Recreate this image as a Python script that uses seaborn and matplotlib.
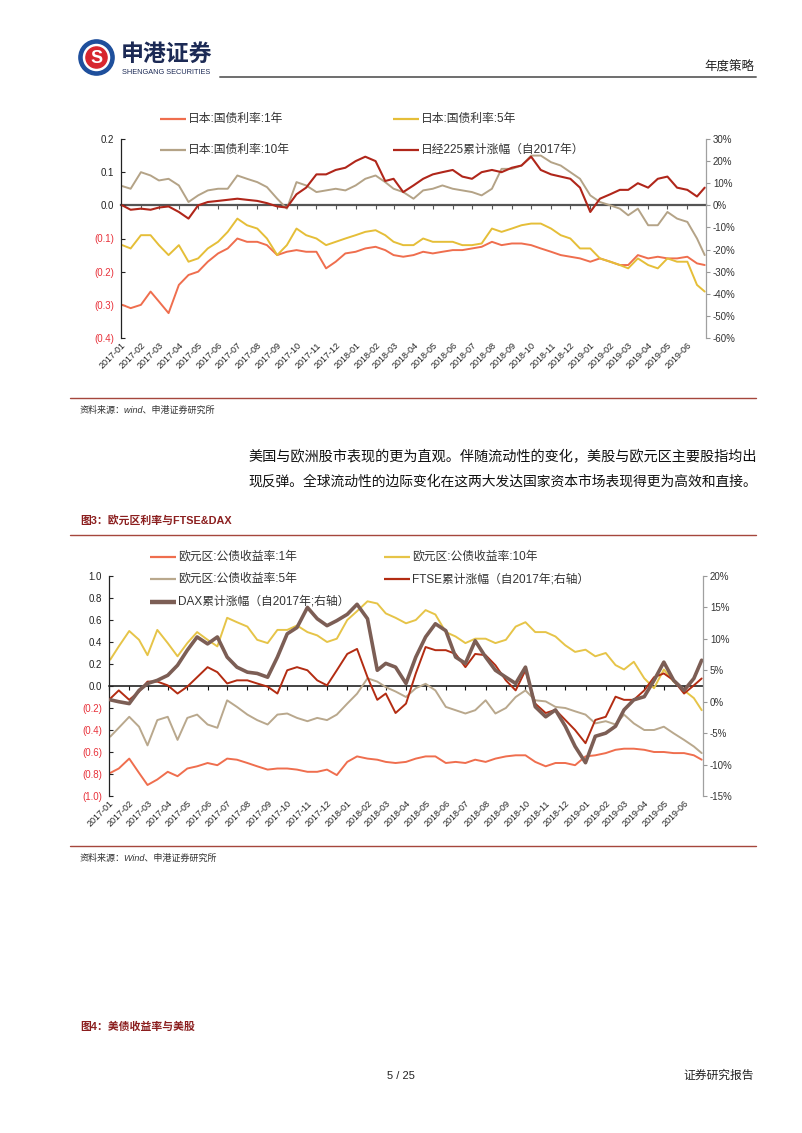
import numpy as np
import pandas as pd
import matplotlib
matplotlib.use("Agg")
import matplotlib.pyplot as plt
import matplotlib.dates as mdates
from matplotlib.lines import Line2D
from matplotlib.patches import Circle
import seaborn as sns

sns.set_style("white")
plt.rcParams["font.family"] = ["Liberation Sans", "Noto Sans CJK SC"]
plt.rcParams["axes.unicode_minus"] = False

# ---------------- data (semi-monthly readings) ----------------
MONTHS = pd.date_range("2017-01-01", "2019-06-01", freq="MS")
DATES = []
for i, m in enumerate(MONTHS):
    DATES.append(m + pd.Timedelta(days=2 if i == 0 else 0))
    DATES.append(m + pd.Timedelta(days=15))
DATES.append(pd.Timestamp("2019-06-28"))

JP1 = [-0.30, -0.31, -0.30, -0.26, -0.29, -0.325, -0.24, -0.21, -0.20, -0.17,
       -0.145, -0.13, -0.10, -0.11, -0.11, -0.12, -0.15, -0.14, -0.135, -0.14,
       -0.14, -0.19, -0.17, -0.145, -0.14, -0.13, -0.125, -0.135, -0.15, -0.155,
       -0.15, -0.14, -0.145, -0.14, -0.135, -0.135, -0.13, -0.125, -0.11, -0.12,
       -0.115, -0.115, -0.12, -0.13, -0.14, -0.15, -0.155, -0.16, -0.17, -0.16,
       -0.17, -0.18, -0.18, -0.15, -0.16, -0.155, -0.16, -0.16, -0.155, -0.175, -0.18]
JP5 = [-0.12, -0.13, -0.09, -0.09, -0.12, -0.15, -0.12, -0.17, -0.16, -0.13,
       -0.11, -0.08, -0.04, -0.06, -0.07, -0.10, -0.15, -0.12, -0.07, -0.09,
       -0.10, -0.12, -0.11, -0.10, -0.09, -0.08, -0.075, -0.09, -0.11, -0.12,
       -0.12, -0.10, -0.11, -0.11, -0.11, -0.12, -0.12, -0.115, -0.07, -0.08,
       -0.07, -0.06, -0.055, -0.055, -0.07, -0.09, -0.10, -0.13, -0.13, -0.16,
       -0.17, -0.18, -0.19, -0.16, -0.18, -0.19, -0.16, -0.17, -0.17, -0.24, -0.26]
JP10 = [0.058, 0.05, 0.10, 0.09, 0.075, 0.08, 0.06, 0.01, 0.03, 0.045,
        0.05, 0.05, 0.09, 0.08, 0.07, 0.055, 0.02, -0.01, 0.07, 0.06,
        0.04, 0.045, 0.05, 0.045, 0.06, 0.08, 0.09, 0.07, 0.05, 0.04,
        0.02, 0.045, 0.05, 0.06, 0.05, 0.045, 0.04, 0.03, 0.05, 0.11,
        0.11, 0.12, 0.15, 0.15, 0.13, 0.12, 0.10, 0.08, 0.03, 0.01,
        0.0, -0.01, -0.03, -0.01, -0.06, -0.06, -0.02, -0.04, -0.05, -0.10, -0.15]
NIKKEI = [0, -2, -1.5, -2, -1, -0.5, -3, -6, 0, 1.5,
          2, 2.5, 3, 2.5, 2, 1, -0.5, -1, 5, 8,
          14, 14, 16, 17, 20, 22, 20, 11, 12, 6,
          9, 12, 14, 15, 16, 13, 12, 15, 16, 15,
          17, 18, 22, 16, 14, 13, 12, 8, -3, 3,
          5, 7, 7, 10, 8, 12, 13, 8, 7, 4, 8]

EU1 = [-0.79, -0.75, -0.66, -0.79, -0.90, -0.85, -0.78, -0.82, -0.75, -0.73,
       -0.70, -0.72, -0.66, -0.67, -0.70, -0.73, -0.76, -0.75, -0.75, -0.76,
       -0.78, -0.78, -0.76, -0.81, -0.69, -0.64, -0.66, -0.67, -0.69, -0.70,
       -0.69, -0.66, -0.64, -0.64, -0.70, -0.69, -0.70, -0.67, -0.69, -0.66,
       -0.64, -0.63, -0.63, -0.69, -0.73, -0.70, -0.70, -0.72, -0.64, -0.63,
       -0.61, -0.58, -0.57, -0.57, -0.58, -0.60, -0.60, -0.61, -0.61, -0.63, -0.67]
EU10 = [0.24, 0.36, 0.50, 0.42, 0.28, 0.51, 0.39, 0.27, 0.39, 0.49,
        0.42, 0.36, 0.62, 0.58, 0.54, 0.42, 0.39, 0.51, 0.51, 0.55,
        0.49, 0.46, 0.40, 0.43, 0.60, 0.68, 0.77, 0.75, 0.66, 0.62,
        0.57, 0.60, 0.69, 0.65, 0.49, 0.45, 0.39, 0.43, 0.43, 0.39,
        0.42, 0.54, 0.58, 0.49, 0.49, 0.45, 0.37, 0.31, 0.33, 0.27,
        0.30, 0.19, 0.15, 0.22, 0.07, -0.02, 0.15, 0.04, -0.04, -0.11, -0.22]
EU5 = [-0.46, -0.38, -0.28, -0.37, -0.54, -0.31, -0.28, -0.49, -0.29, -0.26,
       -0.35, -0.38, -0.13, -0.19, -0.26, -0.31, -0.35, -0.26, -0.25, -0.29,
       -0.32, -0.29, -0.31, -0.26, -0.16, -0.07, 0.07, 0.04, -0.01, -0.05,
       -0.10, -0.02, 0.02, -0.04, -0.19, -0.22, -0.25, -0.22, -0.13, -0.25,
       -0.20, -0.10, -0.04, -0.13, -0.14, -0.19, -0.20, -0.23, -0.26, -0.34,
       -0.32, -0.35, -0.26, -0.34, -0.40, -0.40, -0.37, -0.43, -0.49, -0.55, -0.61]
FTSE = [0.5, 1.8, 0.3, 1.6, 3.2, 3.2, 2.6, 1.3, 2.4, 3.9,
        5.5, 4.7, 2.9, 3.4, 3.4, 2.9, 2.4, 1.3, 5.0, 5.5,
        5.0, 3.4, 2.6, 5.0, 7.6, 8.4, 3.9, 0.3, 1.3, -1.8,
        -0.3, 4.5, 8.7, 8.2, 8.2, 7.6, 5.5, 7.6, 7.4, 5.8,
        3.4, 1.8, 5.0, -0.3, -1.8, -1.3, -2.9, -4.5, -6.6, -2.9,
        -2.4, 0.8, 0.3, 0.3, 1.8, 3.9, 4.5, 3.4, 1.3, 2.6, 3.7]
DAX = [0.3, 0.0, -0.3, 1.8, 2.9, 3.4, 4.2, 5.8, 8.2, 10.3,
       9.2, 10.3, 7.1, 5.5, 4.7, 4.5, 3.9, 7.1, 10.8, 11.8,
       15.0, 13.2, 12.1, 12.9, 13.9, 15.5, 13.2, 5.0, 6.1, 5.5,
       2.9, 7.1, 10.3, 12.4, 11.3, 7.1, 6.1, 9.7, 7.1, 5.0,
       3.9, 2.9, 5.5, -0.8, -2.4, -1.3, -3.9, -7.1, -9.7, -5.5,
       -5.0, -3.9, -1.3, 0.3, 0.8, 3.4, 6.3, 3.4, 1.8, 3.7, 6.6]

JP_LABELS = ["日本:国债利率:1年", "日本:国债利率:5年", "日本:国债利率:10年", "日经225累计涨幅（自2017年）"]
EU_LABELS = ["欧元区:公债收益率:1年", "欧元区:公债收益率:10年", "欧元区:公债收益率:5年",
             "FTSE累计涨幅（自2017年;右轴）", "DAX累计涨幅（自2017年;右轴）"]
JP_LEFT_TICKS = [-0.4, -0.3, -0.2, -0.1, 0.0, 0.1, 0.2]
JP_RIGHT_TICKS = [-60, -50, -40, -30, -20, -10, 0, 10, 20, 30]
EU_LEFT_TICKS = [-1.0, -0.8, -0.6, -0.4, -0.2, 0.0, 0.2, 0.4, 0.6, 0.8, 1.0]
EU_RIGHT_TICKS = [-15, -10, -5, 0, 5, 10, 15, 20]

C_1Y = "#EF6E4E"
C_5Y = "#E5BE38"
C_10Y = "#B4A387"
C_NK = "#B0261A"
C_EU10 = "#E6C448"
C_EU5 = "#B9A88D"
C_FTSE = "#B32C12"
C_DAX = "#7C5E55"
RED_LINE = "#A5473C"

W, H = 802, 1133
fig = plt.figure(figsize=(W / 100, H / 100), dpi=100)


def fx(x):
    return x / W


def fy(y):
    return 1 - y / H


def neg_fmt(v):
    if abs(v) < 1e-9:
        return "0.0"
    return f"{v:.1f}" if v > 0 else f"({abs(v):.1f})"


def style_axes(ax, axr, yticks, rticks, zero_pos, zero_color, zero_lw):
    ax.set_xlim(pd.Timestamp("2017-01-01"), pd.Timestamp("2019-06-30"))
    ax.xaxis.set_major_locator(mdates.MonthLocator())
    ax.xaxis.set_major_formatter(mdates.DateFormatter("%Y-%m"))
    ax.tick_params(axis="x", length=0, labelsize=6.5, pad=2, labelcolor="#222")
    plt.setp(ax.get_xticklabels(), rotation=45, ha="right", rotation_mode="anchor")
    ax.set_yticks(yticks, [neg_fmt(v) for v in yticks])
    for v, lab in zip(yticks, ax.get_yticklabels()):
        lab.set_color("#E8313A" if v < -1e-9 else "#222")
    ax.tick_params(axis="y", direction="in", length=3, width=0.8, labelsize=7, pad=5, color="#222")
    for s in ["top", "bottom", "right"]:
        ax.spines[s].set_visible(False)
    ax.spines["left"].set_color("#222")
    ax.spines["left"].set_linewidth(0.9)
    ax.set_xlabel("")
    ax.set_ylabel("")
    ax.grid(False)

    axr.set_yticks(rticks, [f"{int(v)}%" for v in rticks])
    axr.tick_params(axis="y", direction="out", length=3, width=0.8, labelsize=7, pad=2,
                    color="#999", labelcolor="#333")
    for s in ["top", "bottom", "left"]:
        axr.spines[s].set_visible(False)
    axr.spines["right"].set_color("#A0A0A0")
    axr.spines["right"].set_linewidth(0.9)
    axr.set_ylabel("")
    axr.grid(False)

    sec = ax.secondary_xaxis(zero_pos)
    sec.set_alignment("bottom")
    sec.xaxis.set_major_locator(mdates.MonthLocator())
    sec.tick_params(axis="x", direction="out", length=3, width=0.8, color=zero_color,
                    labelbottom=False, labeltop=False)
    sec.spines["bottom"].set_color(zero_color)
    sec.spines["bottom"].set_linewidth(zero_lw)


def legend_entry(x0, y, color, text, lw=1.6, ln=26):
    fig.add_artist(Line2D([fx(x0), fx(x0 + ln)], [fy(y), fy(y)], transform=fig.transFigure,
                          color=color, lw=lw, solid_capstyle="butt"))
    fig.text(fx(x0 + ln + 2), fy(y), text, ha="left", va="center", fontsize=8.5, color="#333")


# ---------------- header ----------------
ax_logo = fig.add_axes([fx(78), fy(76), 37 / W, 37 / H])
ax_logo.set_xlim(-1.05, 1.05)
ax_logo.set_ylim(-1.05, 1.05)
ax_logo.set_aspect("equal")
ax_logo.axis("off")
ax_logo.add_patch(Circle((0, 0), 1.0, color="#1E4F9C"))
ax_logo.add_patch(Circle((0, 0), 0.74, color="white"))
ax_logo.add_patch(Circle((0, 0), 0.6, color="#D7262E"))
ax_logo.text(0, -0.03, "S", ha="center", va="center", fontsize=13, fontweight="bold", color="white")

fig.text(fx(121), fy(54), "申港证券", ha="left", va="center", fontsize=16.5,
         fontweight="bold", color="#1C2A55")
fig.text(fx(122), fy(72), "SHENGANG SECURITIES", ha="left", va="center", fontsize=5.3, color="#1C2A55")
fig.add_artist(Line2D([fx(220), fx(756)], [fy(77), fy(77)], transform=fig.transFigure,
                      color="#6E6E6E", lw=1.4))
fig.text(fx(754), fy(67), "年度策略", ha="right", va="center", fontsize=9, color="#222")

# ---------------- chart 1 ----------------
ax1 = fig.add_axes([fx(121), fy(338), (706 - 121) / W, (338 - 139) / H])
ax1r = ax1.twinx()
sns.lineplot(x=DATES, y=JP1, ax=ax1, color=C_1Y, lw=1.4)
sns.lineplot(x=DATES, y=JP5, ax=ax1, color=C_5Y, lw=1.4)
sns.lineplot(x=DATES, y=JP10, ax=ax1, color=C_10Y, lw=1.4)
sns.lineplot(x=DATES, y=NIKKEI, ax=ax1r, color=C_NK, lw=1.5)
ax1.set_ylim(-0.4, 0.2)
ax1r.set_ylim(-60, 30)
style_axes(ax1, ax1r, JP_LEFT_TICKS, JP_RIGHT_TICKS, 2 / 3, "#555555", 1.6)

legend_entry(160, 119, C_1Y, JP_LABELS[0])
legend_entry(393, 119, C_5Y, JP_LABELS[1])
legend_entry(160, 150, C_10Y, JP_LABELS[2])
legend_entry(393, 150, C_NK, JP_LABELS[3])

fig.add_artist(Line2D([fx(70), fx(756)], [fy(398), fy(398)], transform=fig.transFigure,
                      color=RED_LINE, lw=1.0))
fig.text(fx(80), fy(410), "资料来源：wind、申港证券研究所", ha="left", va="center",
         fontsize=6.5, color="#333", style="italic")

# ---------------- paragraph ----------------
fig.text(fx(248), fy(457), "美国与欧洲股市表现的更为直观。伴随流动性的变化，美股与欧元区主要股指均出",
         ha="left", va="center", fontsize=10.2, color="#111")
fig.text(fx(248), fy(481), "现反弹。全球流动性的边际变化在这两大发达国家资本市场表现得更为高效和直接。",
         ha="left", va="center", fontsize=9.95, color="#111")

fig.text(fx(80), fy(520), "图3：欧元区利率与FTSE&DAX", ha="left", va="center", fontsize=7.8,
         fontweight="bold", color="#8B1E1E")
fig.add_artist(Line2D([fx(70), fx(756)], [fy(535), fy(535)], transform=fig.transFigure,
                      color=RED_LINE, lw=1.0))

# ---------------- chart 2 ----------------
ax2 = fig.add_axes([fx(109), fy(796), (703 - 109) / W, 220 / H])
ax2r = ax2.twinx()
sns.lineplot(x=DATES, y=EU1, ax=ax2, color=C_1Y, lw=1.4)
sns.lineplot(x=DATES, y=EU10, ax=ax2, color=C_EU10, lw=1.4)
sns.lineplot(x=DATES, y=EU5, ax=ax2, color=C_EU5, lw=1.4)
sns.lineplot(x=DATES, y=FTSE, ax=ax2r, color=C_FTSE, lw=1.4)
sns.lineplot(x=DATES, y=DAX, ax=ax2r, color=C_DAX, lw=2.6)
ax2.set_ylim(-1.0, 1.0)
ax2r.set_ylim(-15, 20)
style_axes(ax2, ax2r, EU_LEFT_TICKS, EU_RIGHT_TICKS, 0.5, "#111111", 1.1)

legend_entry(150, 557, C_1Y, EU_LABELS[0])
legend_entry(384, 557, C_EU10, EU_LABELS[1])
legend_entry(150, 579, C_EU5, EU_LABELS[2])
legend_entry(384, 579, C_FTSE, EU_LABELS[3])
legend_entry(150, 602, C_DAX, EU_LABELS[4], lw=3.2)

fig.add_artist(Line2D([fx(70), fx(756)], [fy(846), fy(846)], transform=fig.transFigure,
                      color=RED_LINE, lw=1.0))
fig.text(fx(80), fy(858), "资料来源：Wind、申港证券研究所", ha="left", va="center",
         fontsize=6.5, color="#333", style="italic")

fig.text(fx(80), fy(1027), "图4：美债收益率与美股", ha="left", va="center", fontsize=7.8,
         fontweight="bold", color="#8B1E1E")

# ---------------- footer ----------------
fig.text(fx(401), fy(1076), "5 / 25", ha="center", va="center", fontsize=8, color="#222")
fig.text(fx(754), fy(1076), "证券研究报告", ha="right", va="center", fontsize=8.5, color="#222")

fig.savefig("out.png", dpi=100)
